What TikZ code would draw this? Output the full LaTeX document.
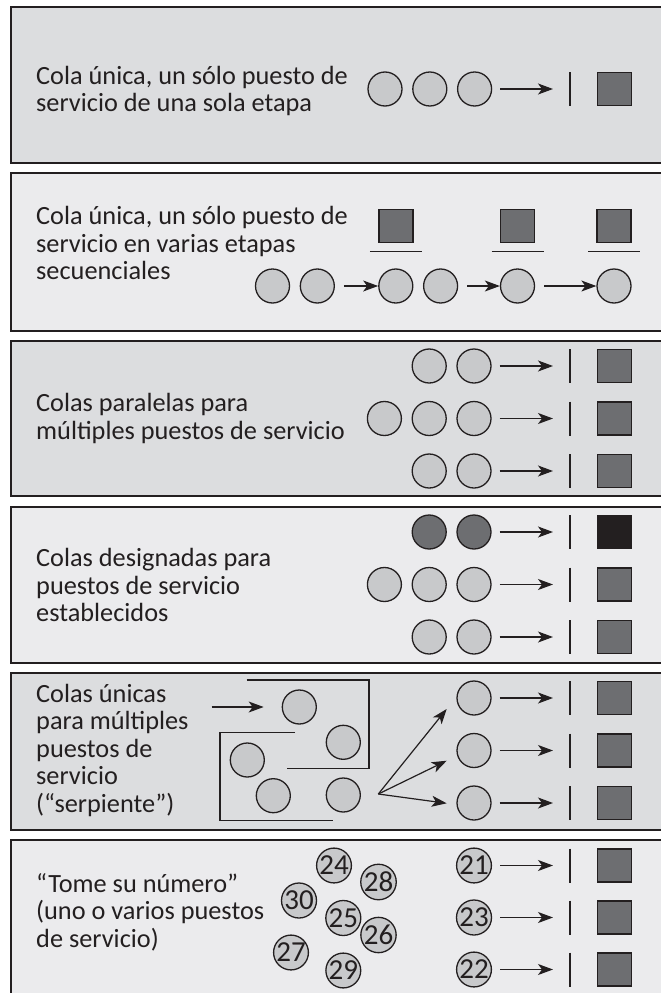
\documentclass[tikz,border=0pt]{standalone}
\usepackage{fontspec}
\setmainfont{Carlito}
\usetikzlibrary{arrows.meta, positioning, calc}
\definecolor{framedark}{HTML}{231F20}
\definecolor{paneldark}{HTML}{DCDDDF}
\definecolor{panellight}{HTML}{EBEBED}
\definecolor{clientgray}{HTML}{C8C9CB}
\definecolor{servergray}{HTML}{6D6E71}
\definecolor{serverblack}{HTML}{231F20}
\newcommand{\counterrow}[4]{% last client, row name, y, server style
  \coordinate (#2gate) at (570,#3);
  \draw[gate] ($(#2gate)+(0,-17)$) -- ($(#2gate)+(0,17)$);
  \node[#4] (#2) at (614.5,#3) {};
  \draw[arr, shorten <=8pt, shorten >=17pt] (#1) -- (#2gate);%
}
\tikzset{
  panel/.style={draw=framedark, line width=2pt},
  desc/.style={anchor=west, align=left, inner sep=0pt, text=framedark, font=\fontsize{26.3}{27.5}\selectfont},
  client/.style={circle, draw=framedark, fill=clientgray, line width=1.3pt, minimum size=34pt, inner sep=0pt, text=framedark, font=\fontsize{29}{28}\selectfont},
  vipclient/.style={client, fill=servergray},
  server/.style={rectangle, draw=framedark, fill=servergray, line width=1.5pt, minimum width=34pt, minimum height=33pt, inner sep=0pt},
  vipserver/.style={server, fill=serverblack},
  gate/.style={draw=framedark, line width=1.4pt},
  wall/.style={draw=framedark, line width=1.2pt},
  arr/.style={-{Stealth[length=15pt, width=11pt, inset=4pt]}, draw=framedark, line width=1.2pt},
}

\begin{document}
\begin{tikzpicture}[x=1pt, y=-1pt]
  \clip (0,0) rectangle (661,993);
  \fill[white] (0,0) rectangle (661,993);

  % panels
  \draw[panel, fill=paneldark]  (11,7)   rectangle (672,163);
  \draw[panel, fill=panellight] (11,173) rectangle (672,331);
  \draw[panel, fill=paneldark]  (11,341) rectangle (672,496);
  \draw[panel, fill=panellight] (11,507) rectangle (672,663);
  \draw[panel, fill=paneldark]  (11,673) rectangle (672,830);
  \draw[panel, fill=panellight] (11,840) rectangle (672,1010);

  % single queue, single stage
  \node[desc] (t1) at (36,91) {Cola única, un sólo puesto de\\servicio de una sola etapa};
  \node[client] (a1) at (385,89) {};
  \node[client, right=9.5pt of a1] (a2) {};
  \node[client, right=9.5pt of a2] (a3) {};
  \counterrow{a3}{as}{89}{server}

  % single queue, several stages
  \node[desc] (t2) at (36,243) {Cola única, un sólo puesto de\\servicio en varias etapas\\secuenciales};
  \node[client] (b1) at (272.5,286) {};
  \node[client, right=9.5pt of b1] (b2) {};
  \node[client] (b3) at (395.8,286) {};
  \node[client, right=9.5pt of b3] (b4) {};
  \node[client] (b5) at (517.5,286) {};
  \node[client] (b6) at (614,286) {};
  \foreach \c/\s in {b3/bs1, b5/bs2, b6/bs3} {
    \node[server, above=25pt of \c] (\s) {};
    \draw[wall] ($(\s.south)+(-26,8)$) -- ++(52,0);
  }
  \draw[arr, shorten <=9pt] (b2) -- (b3);
  \draw[arr, shorten <=9pt] (b4) -- (b5);
  \draw[arr, shorten <=9pt] (b5) -- (b6);

  % parallel queues
  \node[desc] (t3) at (36,418.5) {Colas paralelas para\\múltiples puestos de servicio};
  \node[client] (c12) at (474,366) {};
  \node[client, left=9.5pt of c12] (c11) {};
  \node[client] (c23) at (474,418.5) {};
  \node[client, left=9.5pt of c23] (c22) {};
  \node[client, left=9.5pt of c22] (c21) {};
  \node[client] (c32) at (474,471) {};
  \node[client, left=9.5pt of c32] (c31) {};
  \counterrow{c12}{cs1}{366}{server}
  \counterrow{c23}{cs2}{418.5}{server}
  \counterrow{c32}{cs3}{471}{server}

  % designated queues
  \node[desc] (t4) at (36,585) {Colas designadas para\\puestos de servicio\\establecidos};
  \node[vipclient] (d12) at (474,532) {};
  \node[vipclient, left=9.5pt of d12] (d11) {};
  \node[client] (d23) at (474,584.5) {};
  \node[client, left=9.5pt of d23] (d22) {};
  \node[client, left=9.5pt of d22] (d21) {};
  \node[client] (d32) at (474,637) {};
  \node[client, left=9.5pt of d32] (d31) {};
  \counterrow{d12}{ds1}{532}{vipserver}
  \counterrow{d23}{ds2}{584.5}{server}
  \counterrow{d32}{ds3}{637}{server}

  % snake
  \node[desc] (t5) at (36,750) {Colas únicas\\para múltiples\\puestos de\\servicio\\(“serpiente”)};
  \draw[wall] (246.7,680) -- (369,680) -- (369,768.3) -- (286.7,768.3);
  \draw[wall] (295,732.7) -- (220,732.7) -- (220,820.7) -- (333.3,820.7);
  \node[client] (s1) at (299.3,707) {};
  \node[client] (s2) at (343.3,742.3) {};
  \node[client] (s3) at (247.3,760) {};
  \node[client] (s4) at (273.3,795.7) {};
  \node[client] (s5) at (343.3,795) {};
  \coordinate (entry) at (211.7,707);
  \draw[arr, shorten >=18pt] (entry) -- (s1);
  \node[client] (e1) at (474,698) {};
  \node[client] (e2) at (474,750.5) {};
  \node[client] (e3) at (474,803) {};
  \coordinate (fan) at (378.3,794);
  \coordinate (tip1) at (446.7,709);
  \coordinate (tip2) at (446.7,760.7);
  \coordinate (tip3) at (446.7,803.3);
  \foreach \t in {tip1, tip2, tip3}
    \draw[arr] (fan) -- (\t);
  \counterrow{e1}{es1}{698}{server}
  \counterrow{e2}{es2}{750.5}{server}
  \counterrow{e3}{es3}{803}{server}

  % take a number
  \node[desc] (t6) at (36,912) {“Tome su número”\\(uno o varios puestos\\de servicio)};
  \foreach \n/\x/\y in {24/334/865.5, 28/378.5/882, 30/299/900.5, 25/343.3/918,
                        26/378.5/935, 27/291/952.5, 29/343.3/970.5}
    \node[client] (n\n) at (\x,\y) {\n};
  \node[client] (n21) at (474,865.5) {21};
  \node[client] (n23) at (474,917.5) {23};
  \node[client] (n22) at (474,969.5) {22};
  \counterrow{n21}{fs1}{865.5}{server}
  \counterrow{n23}{fs2}{917.5}{server}
  \counterrow{n22}{fs3}{969.5}{server}
\end{tikzpicture}
\end{document}
